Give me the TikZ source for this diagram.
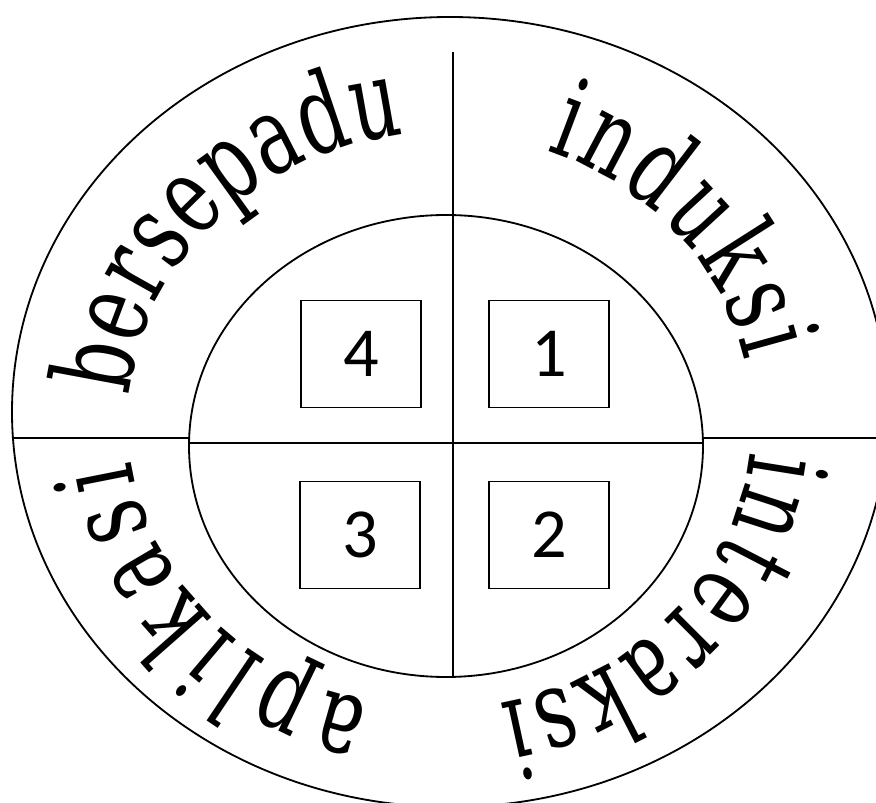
\documentclass[tikz,border=0pt]{standalone}
\usepackage{fontspec}
\usetikzlibrary{decorations.text}
\newfontfamily\arcfont[FakeStretch=0.69]{DejaVu Serif}
\newfontfamily\numfont{Carlito}
\newcommand{\arcface}{\arcfont\fontsize{78}{78}\selectfont}

\begin{document}
\begin{tikzpicture}[x=0.025cm, y=0.025cm, line width=1.3pt,
  numbox/.style={draw, line width=1pt, minimum width=3cm, minimum height=2.675cm, inner sep=0pt, font=\numfont\fontsize{50}{50}\selectfont},
  arcword/.style={decorate, decoration={text along path, text align=fit to path, text={|\arcface|#1}}}]
\useasboundingbox (0,0) rectangle (876,803);
\clip (0,0) rectangle (876,803);
% rings
\draw (450,391) ellipse [x radius=438, y radius=395];
\draw (446,357) ellipse [x radius=257, y radius=231];
% quarter lines
\coordinate (oleft) at (12,365);   \coordinate (ileft) at (189,365);
\coordinate (iright) at (703,365); \coordinate (oright) at (880,365);
\coordinate (otop) at (453,751);   \coordinate (itop) at (453,588);
\coordinate (ibot) at (453,126);
\draw (oleft) -- (ileft);
\draw (iright) -- (oright);
\draw (189,360) -- (703,360);
\draw (otop) -- (itop) -- (ibot);
% numbered boxes
\node[numbox] (n4) at (361,449) {4};
\node[numbox] (n1) at (549,449) {1};
\node[numbox] (n3) at (360,268) {3};
\node[numbox] (n2) at (549,268) {2};
% words round the ring
\coordinate (tc) at (440,382);
\path[arcword=bersepadu] (tc) ++(175:312 and 288) arc[start angle=175, end angle=96.5, x radius=312, y radius=288];
\path[arcword=induksi]   (tc) ++(70:312 and 288)  arc[start angle=70, end angle=12, x radius=312, y radius=288];
\path[arcword=interaksi] (tc) ++(-6:312 and 288)  arc[start angle=-6, end angle=-79, x radius=312, y radius=288];
\path[arcword=aplikasi]  (tc) ++(257:312 and 288) arc[start angle=257, end angle=188, x radius=312, y radius=288];
\end{tikzpicture}
\end{document}
